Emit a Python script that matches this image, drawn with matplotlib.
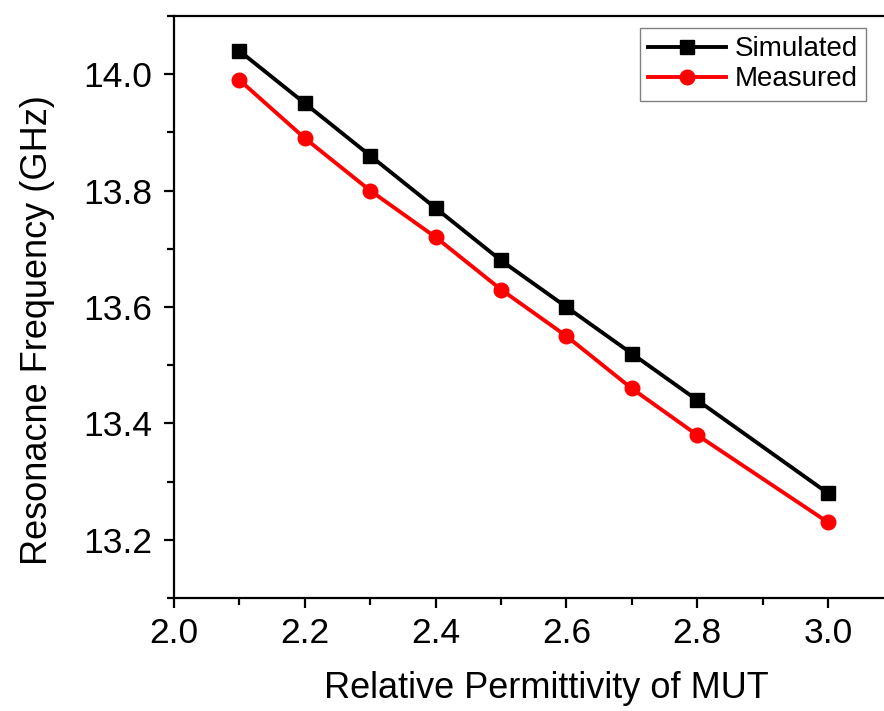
import matplotlib
matplotlib.use("Agg")
import matplotlib.pyplot as plt
from matplotlib.ticker import MultipleLocator

plt.rcParams['font.family'] = ['Liberation Sans', 'DejaVu Sans']

permittivity = [2.1, 2.2, 2.3, 2.4, 2.5, 2.6, 2.7, 2.8, 3.0]
simulated = [14.04, 13.95, 13.86, 13.77, 13.68, 13.60, 13.52, 13.44, 13.28]
measured = [13.99, 13.89, 13.80, 13.72, 13.63, 13.55, 13.46, 13.38, 13.23]

fig = plt.figure(figsize=(8.84, 7.11), dpi=100)
ax = fig.add_axes([174/884, 113/711, 710/884, 582/711])

ax.plot(permittivity, simulated, c="black", lw=2.8, marker="s", ms=9.5, label="Simulated")
ax.plot(permittivity, measured, c="red", lw=2.8, marker="o", ms=10.5, label="Measured")

ax.set_xlim(2.0, 3.0856)
ax.set_ylim(13.1, 14.1)
ax.xaxis.set_major_locator(MultipleLocator(0.2))
ax.xaxis.set_minor_locator(MultipleLocator(0.1))
ax.yaxis.set_major_locator(MultipleLocator(0.2))
ax.yaxis.set_minor_locator(MultipleLocator(0.1))
ax.xaxis.set_major_formatter(plt.FormatStrFormatter("%.1f"))
ax.yaxis.set_major_formatter(plt.FormatStrFormatter("%.1f"))

for side in ["left", "bottom", "top"]:
    ax.spines[side].set_linewidth(1.6)
ax.spines["right"].set_visible(False)

ax.tick_params(axis="both", which="major", direction="out", length=7, width=1.6,
               labelsize=25.5)
ax.tick_params(axis="x", which="major", pad=7)
ax.tick_params(axis="y", which="major", pad=9)
ax.tick_params(axis="both", which="minor", direction="out", length=5, width=1.6)
ax.tick_params(top=False, right=False, which="both")

ax.set_xlabel("Relative Permittivity of MUT", fontsize=26, labelpad=15, x=0.525)
ax.set_ylabel("Resonacne Frequency (GHz)", fontsize=26, labelpad=20, y=0.46)

leg = ax.legend(loc="upper right", fontsize=20, fancybox=False,
                edgecolor="gray", framealpha=1, handlelength=2.8,
                borderpad=0.3, labelspacing=0.15, handletextpad=0.3,
                borderaxespad=0)
leg.set_bbox_to_anchor((866/884, 683/711), transform=fig.transFigure)
leg.get_frame().set_linewidth(1.0)

fig.savefig("out.png", dpi=100)
